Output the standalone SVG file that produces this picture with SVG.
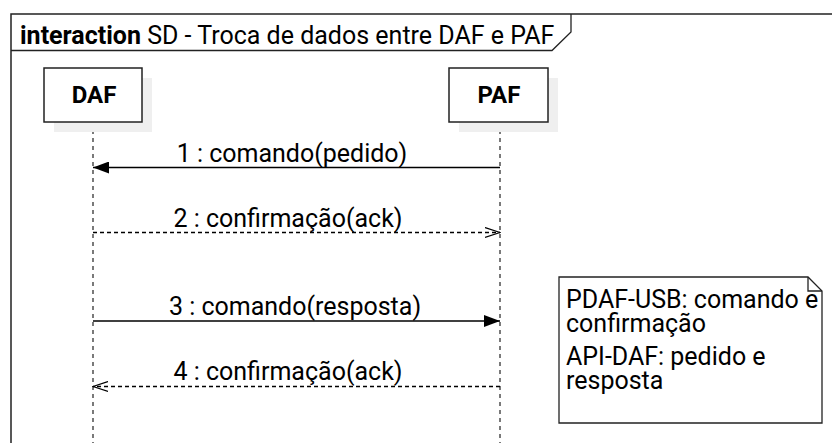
<svg xmlns="http://www.w3.org/2000/svg" width="832" height="443" viewBox="0 0 832 443">
<defs>
<style>
text{font-family:Roboto,"Liberation Sans",sans-serif;fill:#000;font-size:25px}
.lbl{text-anchor:middle}
.hd{font-weight:bold;text-anchor:middle;font-size:24px}
.box{fill:#fff;stroke:#222;stroke-width:1.5}
.shadow{fill:#efefef}
.life{stroke:#333;stroke-width:1.3;stroke-dasharray:4 4;fill:none}
.msg{stroke:#000;stroke-width:1.3;fill:none}
.dash{stroke-dasharray:4 3}
</style>
<marker id="filled" viewBox="0 0 16 12" refX="16" refY="6" markerWidth="16" markerHeight="12" markerUnits="userSpaceOnUse" orient="auto">
<path d="M0,0 L16,6 L0,12 Z" fill="#000"/>
</marker>
<marker id="open" viewBox="0 0 16 12" refX="15" refY="6" markerWidth="16" markerHeight="12" markerUnits="userSpaceOnUse" orient="auto">
<path d="M0,1 L15,6 L0,11" fill="none" stroke="#000" stroke-width="1.2"/>
</marker>
</defs>
<rect width="832" height="443" fill="#fff"/>
<g id="frame">
<path d="M11,445 L11,14 L840,14" fill="none" stroke="#222" stroke-width="1.5"/>
<path d="M11,50.5 L552,50.5 L571,32 L571,14" fill="none" stroke="#222" stroke-width="1.3"/>
<text x="20" y="44"><tspan font-weight="bold">interaction</tspan> SD - Troca de dados entre DAF e PAF</text>
</g>
<g id="lifelines">
<line class="life" x1="93" y1="122" x2="93" y2="443"/>
<line class="life" x1="500" y1="122" x2="500" y2="443"/>
</g>
<g id="DAF">
<rect class="shadow" x="54" y="78" width="98" height="54"/>
<rect class="box" x="44" y="68" width="98" height="54"/>
<text class="hd" x="94" y="103">DAF</text>
</g>
<g id="PAF">
<rect class="shadow" x="459" y="78" width="99" height="54"/>
<rect class="box" x="449" y="68" width="99" height="54"/>
<text class="hd" x="499" y="103">PAF</text>
</g>
<g id="connectors">
<line class="msg" x1="500" y1="167.5" x2="93" y2="167.5" marker-end="url(#filled)"/>
<text class="lbl" x="292" y="162">1 : comando(pedido)</text>
<line class="msg dash" x1="93" y1="232.5" x2="500" y2="232.5" marker-end="url(#open)"/>
<text class="lbl" x="288" y="227">2 : confirmação(ack)</text>
<line class="msg" x1="93" y1="321" x2="500" y2="321" marker-end="url(#filled)"/>
<text class="lbl" x="295" y="315">3 : comando(resposta)</text>
<line class="msg dash" x1="500" y1="386.5" x2="93" y2="386.5" marker-end="url(#open)"/>
<text class="lbl" x="288" y="380">4 : confirmação(ack)</text>
</g>
<g id="note">
<path d="M559,277 L808,277 L822,291 L822,423 L559,423 Z" fill="#fff" stroke="#222" stroke-width="1.3"/>
<path d="M808,277 L808,291 L822,291" fill="none" stroke="#222" stroke-width="1.3"/>
<text x="566" y="308">PDAF-USB: comando e<tspan x="566" y="332">confirmação</tspan></text>
<text x="566" y="365">API-DAF: pedido e<tspan x="566" y="389">resposta</tspan></text>
</g>
</svg>
